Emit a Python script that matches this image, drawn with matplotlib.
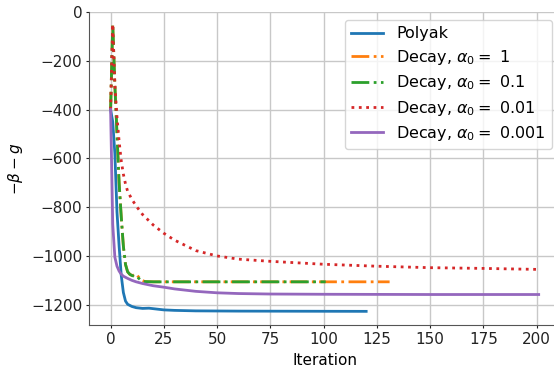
import matplotlib
matplotlib.use("Agg")
import matplotlib.pyplot as plt

# Polyak
polyak_x = [0, 1, 2, 3, 4, 5, 6, 7, 8, 10, 12, 15, 18, 20, 25, 30, 40, 60, 120]
polyak_y = [-400, -450, -580, -820, -960, -1080, -1150, -1185, -1198, -1207, -1212,
            -1215, -1214, -1216, -1221, -1223, -1225, -1226, -1227]

# Decay, alpha0 = 1
d1_x = [0, 1, 2, 3, 4, 5, 6, 7, 8, 9, 10, 11, 12, 13, 14, 16, 20, 131]
d1_y = [-400, -50, -300, -500, -700, -840, -960, -1035, -1065, -1075, -1080, -1078,
        -1074, -1085, -1095, -1105, -1106, -1106]

# Decay, alpha0 = 0.1
d01_x = [0, 1, 2, 3, 4, 5, 6, 7, 8, 9, 10, 11, 12, 13, 14, 16, 20, 101]
d01_y = [-400, -50, -300, -500, -700, -840, -960, -1035, -1065, -1075, -1080, -1083,
         -1082, -1090, -1098, -1105, -1106, -1106]

# Decay, alpha0 = 0.01
d001_x = [0, 1, 2, 3, 4, 5, 6, 7, 8, 10, 12, 15, 20, 25, 30, 40, 50, 60, 75, 100,
          125, 150, 175, 200]
d001_y = [-400, -50, -300, -430, -530, -610, -665, -705, -735, -768, -795, -830,
          -873, -907, -935, -978, -1000, -1013, -1022, -1034, -1042, -1048, -1051, -1055]

# Decay, alpha0 = 0.001
d0001_x = [0, 1, 2, 3, 4, 5, 6, 8, 10, 12, 15, 20, 25, 30, 40, 50, 60, 75, 100, 150, 201]
d0001_y = [-400, -870, -1005, -1042, -1062, -1075, -1083, -1092, -1100, -1106, -1113,
           -1122, -1128, -1135, -1145, -1151, -1154, -1156, -1157, -1158, -1158]

labels = ["Polyak", r"Decay, $\alpha_0 = $ 1", r"Decay, $\alpha_0 = $ 0.1",
          r"Decay, $\alpha_0 = $ 0.01", r"Decay, $\alpha_0 = $ 0.001"]

plt.rcParams['font.size'] = 11
fig = plt.figure(figsize=(5.54, 3.67), dpi=100)
ax = fig.add_axes([0.161, 0.1144, 0.850, 0.853])

ax.plot(polyak_x, polyak_y, color="#1f77b4", lw=2, ls="-", label=labels[0])
ax.plot(d1_x, d1_y, color="#ff7f0e", lw=2, ls="-.", label=labels[1])
ax.plot(d01_x, d01_y, color="#2ca02c", lw=2, ls="-.", label=labels[2])
ax.plot(d001_x, d001_y, color="#d62728", lw=2, ls=":", label=labels[3])
ax.plot(d0001_x, d0001_y, color="#9467bd", lw=2, ls="-", label=labels[4])

ax.set_xlim(-10.05, 211.05)
ax.set_ylim(-1283, 0)
ax.set_xticks([0, 25, 50, 75, 100, 125, 150, 175, 200])
ax.set_yticks([0, -200, -400, -600, -800, -1000, -1200])
ax.grid(True, color="#c8c8c8", lw=1)
ax.set_axisbelow(True)
for s in ["top", "right"]:
    ax.spines[s].set_visible(False)
for s in ["left", "bottom"]:
    ax.spines[s].set_color("#555555")
ax.tick_params(colors="#222222", labelsize=11, length=2.5, pad=2.5)
ax.set_xlabel("Iteration", fontsize=11)
ax.set_ylabel(r"$-\beta - g$", fontsize=11)
ax.legend(loc="upper right", fontsize=11.5, framealpha=0.8, labelspacing=0.4)

fig.savefig("out.png", dpi=100)
